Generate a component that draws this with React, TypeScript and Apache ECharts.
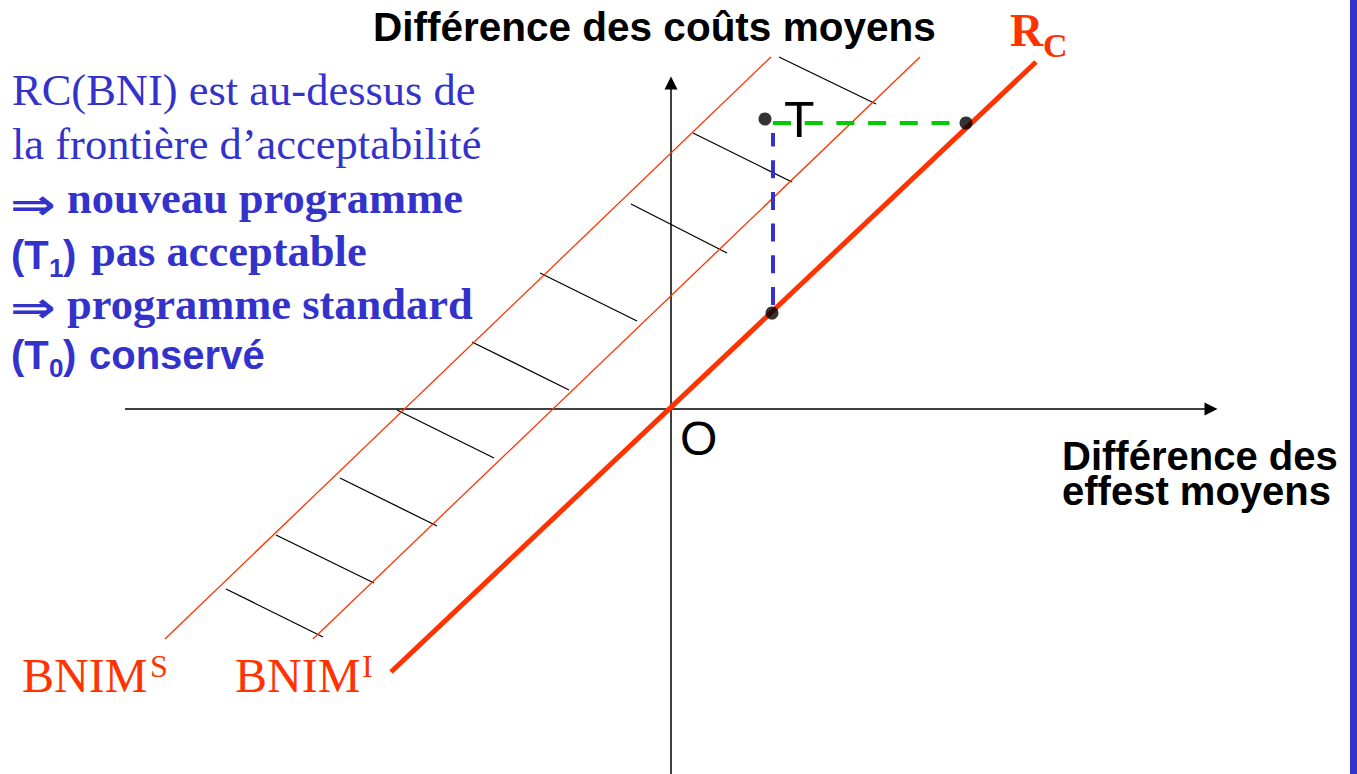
import React, { useEffect, useRef } from 'react';
import * as echarts from 'echarts';

// Data coordinates: origin at O, one unit per pixel, y pointing up
const X_RANGE = [-671, 686];
const Y_RANGE = [-365, 409];

const horizontalAxis = [[-546, 0], [540, 0]];
const verticalAxis = [[0, -365], [0, 326]];
const rcLine = [[-280, -263], [365, 347]];
const bnimSLine = [[-506, -230], [100, 352]];
const bnimILine = [[-358, -230], [249, 352]];
const hatchStart = [[-445, -180], [-395, -126], [-331, -69], [-274, -1], [-199, 67], [-131, 136], [-40, 205], [22, 276], [108, 352]];
const hatchEnd = [[-348, -228], [-297, -174], [-234, -117], [-177, -49], [-102, 19], [-34, 88], [56, 156], [121, 227], [205, 305]];
const pointT = [94, 290];
const pointsOnRc = [[101, 96], [295, 286]];
const greenDash = [[102, 286], [282, 286]];
const blueDash = [[102, 104], [102, 276]];

const SANS = '"Liberation Sans", Arial, sans-serif';
const SERIF = '"Liberation Serif", "Times New Roman", serif';
const BLUE = '#3333CC';
const RED = '#FF3300';

function txt(text: string, x: number, baseline: number, size: number, family: string, color: string, bold = false) {
  const k = family === SERIF ? 0.3375 : 0.3465;
  return {
    type: 'text',
    x,
    y: baseline - k * size,
    z: 10,
    style: {
      text,
      fontSize: size,
      fontFamily: family,
      fontWeight: bold ? 'bold' : 'normal',
      fill: color,
      align: 'left',
      verticalAlign: 'middle',
    },
  };
}

function arrowGlyph(x: number, centerY: number) {
  return {
    type: 'text',
    x,
    y: centerY,
    z: 10,
    scaleX: 1.3,
    style: {
      text: '\u21D2',
      fontSize: 42,
      fontWeight: 'bold',
      fontFamily: '"DejaVu Sans", sans-serif',
      fill: BLUE,
      align: 'left',
      verticalAlign: 'middle',
    },
  };
}

export default function App() {
  const ref = useRef<HTMLDivElement>(null);
  useEffect(() => {
    if (!ref.current) return;
    const chart = echarts.init(ref.current, null, { renderer: 'svg' });
    const seg = (a: number[][]) => ({ coords: a });
    chart.setOption({
      animation: false,
      grid: { left: 0, right: 0, top: 0, bottom: 0 },
      xAxis: { type: 'value', min: X_RANGE[0], max: X_RANGE[1], show: false },
      yAxis: { type: 'value', min: Y_RANGE[0], max: Y_RANGE[1], show: false },
      series: [
        {
          type: 'lines', coordinateSystem: 'cartesian2d', silent: true,
          symbol: ['none', 'triangle'], symbolSize: 13,
          lineStyle: { color: '#000', width: 1.5, opacity: 1 },
          data: [seg(horizontalAxis), seg(verticalAxis)],
        },
        {
          type: 'lines', coordinateSystem: 'cartesian2d', silent: true,
          lineStyle: { color: '#000', width: 1.3, opacity: 1 },
          data: hatchStart.map((s, i) => seg([s, hatchEnd[i]])),
        },
        {
          type: 'lines', coordinateSystem: 'cartesian2d', silent: true,
          lineStyle: { color: RED, width: 1.3, opacity: 1 },
          data: [seg(bnimSLine), seg(bnimILine)],
        },
        {
          type: 'lines', coordinateSystem: 'cartesian2d', silent: true,
          lineStyle: { color: RED, width: 5, opacity: 1 },
          data: [seg(rcLine)],
        },
        {
          type: 'lines', coordinateSystem: 'cartesian2d', silent: true,
          lineStyle: { color: '#00CC00', width: 4, type: [18, 13.7], opacity: 1 },
          data: [seg(greenDash)],
        },
        {
          type: 'lines', coordinateSystem: 'cartesian2d', silent: true,
          lineStyle: { color: BLUE, width: 4, type: [18, 13.7], opacity: 1 },
          data: [seg(blueDash)],
        },
        {
          type: 'scatter', silent: true, symbolSize: 13,
          itemStyle: { color: '#000' },
          data: [pointT, ...pointsOnRc],
          z: 5,
        },
      ],
      graphic: [
        { type: 'rect', shape: { x: 1350, y: 0, width: 7, height: 774 }, style: { fill: BLUE } },
        txt('Différence des coûts moyens', 373, 41, 40.5, SANS, '#000', true),
        txt('R', 1010, 46, 46, SERIF, RED, true),
        txt('C', 1043, 57, 34, SERIF, RED, true),
        txt('T', 784, 137, 50, SANS, '#000'),
        txt('O', 680, 455, 48, SANS, '#000'),
        {
          type: 'text', x: 1062, y: 438.6, z: 10,
          style: {
            text: 'Différence des\neffest moyens',
            fontSize: 40, lineHeight: 35, fontFamily: SANS, fontWeight: 'bold',
            fill: '#000', align: 'left', verticalAlign: 'top',
          },
        },
        txt('BNIM', 22, 692, 48, SERIF, RED),
        txt('S', 150, 677, 32, SERIF, RED),
        txt('BNIM', 235, 692, 48, SERIF, RED),
        txt('I', 362, 677, 32, SERIF, RED),
        txt('RC(BNI) est au-dessus de', 12, 105, 44.5, SERIF, BLUE),
        txt('la frontière d\u2019acceptabilité', 12, 159, 44.5, SERIF, BLUE),
        arrowGlyph(10, 204),
        txt('nouveau programme', 67, 213, 44.5, SERIF, BLUE, true),
        txt('(T', 11, 269, 40, SANS, BLUE, true),
        txt('1', 49, 277, 26, SANS, BLUE, true),
        txt(')', 63, 269, 40, SANS, BLUE, true),
        txt('pas acceptable', 91, 266, 44.5, SERIF, BLUE, true),
        arrowGlyph(10, 307),
        txt('programme standard', 67, 319, 44.5, SERIF, BLUE, true),
        txt('(T', 11, 369, 40, SANS, BLUE, true),
        txt('0', 49, 377, 26, SANS, BLUE, true),
        txt(')', 63, 369, 40, SANS, BLUE, true),
        txt('conservé', 89, 369, 40, SANS, BLUE, true),
      ],
    });
    return () => chart.dispose();
  }, []);
  return <div ref={ref} style={{ position: 'absolute', left: 0, top: 0, width: 1357, height: 774 }} />;
}
